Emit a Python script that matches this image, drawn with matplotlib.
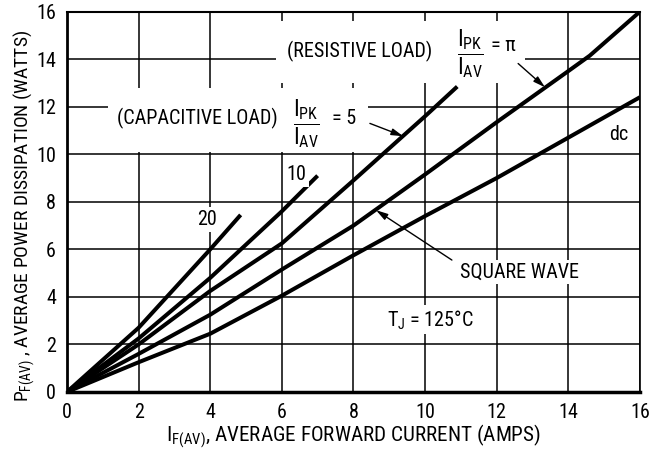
import matplotlib
matplotlib.use("Agg")
import matplotlib.pyplot as plt
from matplotlib import font_manager
from matplotlib.patches import Rectangle

# curves: I_F(AV) (amps) -> P_F(AV) (watts)
x_dc = [0, 2, 4, 6, 8, 10, 12, 14, 16]
y_dc = [0, 1.25, 2.45, 4.05, 5.75, 7.4, 9.0, 10.7, 12.4]
x_pi = [0, 2, 4, 6, 8, 10, 12, 14, 14.6, 16]
y_pi = [0, 1.6, 3.25, 5.15, 7.0, 9.15, 11.35, 13.5, 14.15, 16]
x_5 = [0, 2, 4, 6, 8, 10, 10.9]
y_5 = [0, 2.0, 4.25, 6.25, 8.9, 11.6, 12.85]
x_10 = [0, 2, 4, 6, 7.0]
y_10 = [0, 2.25, 4.8, 7.6, 9.1]
x_20 = [0, 2, 4, 4.85]
y_20 = [0, 2.7, 6.0, 7.45]

ticks = list(range(0, 17, 2))

# narrow face if there is one, the datasheet uses Helvetica Narrow
fonts = font_manager.fontManager.ttflist
names = {f.name for f in fonts}
fam = None
for c in ["Liberation Sans Narrow", "Roboto Condensed", "Arial Narrow",
          "Nimbus Sans Narrow", "Open Sans Condensed", "Noto Sans Condensed"]:
    if c in names:
        fam = c
        break
stretch = "normal"
if fam is None:
    cond = [f for f in fonts if f.name in ("Noto Sans", "Open Sans", "DejaVu Sans", "Roboto")
            and str(f.stretch) in ("condensed", "semi-condensed", "75", "87.5")]
    if cond:
        fam = cond[0].name
        stretch = str(cond[0].stretch)
if fam is None:
    fam = "Liberation Sans"
narrow = fam != "Liberation Sans"

plt.rcParams["font.family"] = [fam, "DejaVu Sans"]
plt.rcParams["font.stretch"] = stretch
plt.rcParams["mathtext.fontset"] = "custom"
plt.rcParams["mathtext.rm"] = fam
plt.rcParams["mathtext.it"] = fam
plt.rcParams["mathtext.default"] = "regular"

fs = 14.5 if narrow else 12.3
fs_frac = 16.5 if narrow else 14
fs_x = 15.2 if narrow else 13
fs_y = 14 if narrow else 12

fig = plt.figure(figsize=(6.6, 4.5), dpi=100)
ax = fig.add_axes([0.1015, 0.129, 0.868, 0.845])

for xs, ys in [(x_dc, y_dc), (x_pi, y_pi), (x_5, y_5), (x_10, y_10), (x_20, y_20)]:
    ax.plot(xs, ys, color="black", lw=2.9, solid_capstyle="butt", zorder=3)

ax.set_xlim(0, 16)
ax.set_ylim(0, 16)
ax.set_xticks(ticks)
ax.set_yticks(ticks)
ax.grid(True, color="black", lw=1.1)
ax.set_axisbelow(True)
ax.tick_params(length=0, labelsize=fs, pad=8)
ax.spines["left"].set_linewidth(2.0)
ax.spines["bottom"].set_linewidth(2.5)
ax.spines["top"].set_linewidth(1.5)
ax.spines["right"].set_linewidth(1.2)

ax.set_xlabel("I$_{F(AV)}$, AVERAGE FORWARD CURRENT (AMPS)", fontsize=fs_x, labelpad=0.5)
ax.set_ylabel("P$_{F(AV)}$ , AVERAGE POWER DISSIPATION (WATTS)", fontsize=fs_y)
ax.yaxis.set_label_coords(-0.053, 0.463)

# white boxes behind the load labels (grid is broken there)
ax.add_patch(Rectangle((5.84, 13.0), 6.96, 2.6, fc="white", ec="none", zorder=1))
ax.add_patch(Rectangle((1.15, 10.1), 7.25, 2.7, fc="white", ec="none", zorder=1))

ax.text(6.15, 14.33, "(RESISTIVE LOAD)", fontsize=fs, va="center", ha="left", zorder=4)
ax.text(11.26, 14.25, r"$\dfrac{I_{PK}}{I_{AV}}$", fontsize=fs_frac, va="center", ha="center", zorder=4)
ax.text(11.85, 14.58, "= π", fontsize=fs, va="center", ha="left", zorder=4)

ax.text(1.4, 11.5, "(CAPACITIVE LOAD)", fontsize=fs, va="center", ha="left", zorder=4)
ax.text(6.68, 11.3, r"$\dfrac{I_{PK}}{I_{AV}}$", fontsize=fs_frac, va="center", ha="center", zorder=4)
ax.text(7.4, 11.5, "= 5", fontsize=fs, va="center", ha="left", zorder=4)

box = dict(fc="white", ec="none", pad=2)
ax.text(3.91, 7.25, "20", fontsize=fs, va="center", ha="center", bbox=box, zorder=4)
ax.text(6.41, 9.14, "10", fontsize=fs, va="center", ha="center", bbox=box, zorder=4)
ax.text(15.4, 10.82, "dc", fontsize=fs, va="center", ha="center", zorder=4)
ax.text(12.65, 5.04, "SQUARE WAVE", fontsize=fs, va="center", ha="center", bbox=box, zorder=4)
ax.text(8.94, 3.03, "T$_J$ = 125°C", fontsize=fs, va="center", ha="left", bbox=box, zorder=4)

arrow = dict(arrowstyle="-|>,head_length=0.7,head_width=0.2", color="black", lw=1.0,
             shrinkA=0, shrinkB=0)
ax.annotate("", xy=(9.39, 10.76), xytext=(8.46, 11.3), arrowprops=arrow, zorder=4)
ax.annotate("", xy=(13.35, 12.82), xytext=(12.6, 13.82), arrowprops=arrow, zorder=4)
ax.annotate("", xy=(8.63, 7.65), xytext=(10.75, 5.55), arrowprops=arrow, zorder=4)

fig.savefig("out.png", dpi=100)
